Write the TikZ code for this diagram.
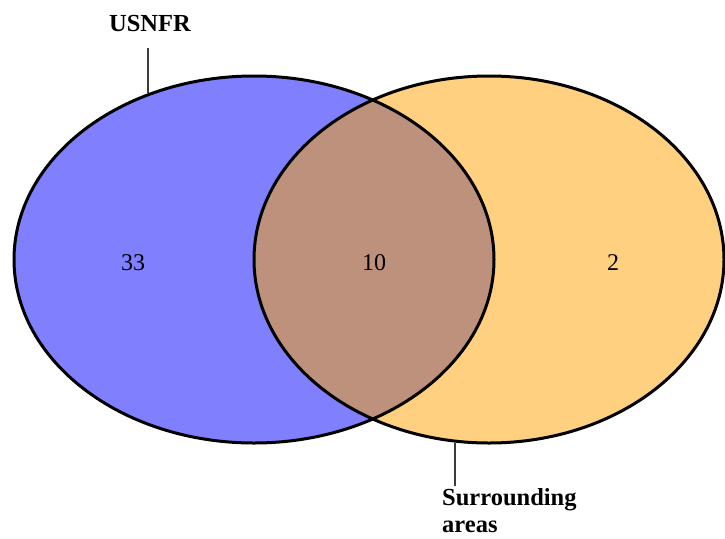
\documentclass[tikz,border=0pt]{standalone}
\usepackage{fontspec}
\setmainfont{Liberation Serif}
\usetikzlibrary{shapes.geometric}
\definecolor{setblue}{RGB}{128,128,255}
\definecolor{setorange}{RGB}{255,208,128}
\definecolor{setboth}{RGB}{190,145,125}
\definecolor{leadgray}{RGB}{60,60,60}
\tikzset{
  outline/.style={draw=black,line width=3pt},
  lbl/.style={font=\fontsize{24.5}{27.5}\selectfont\bfseries,inner sep=0pt},
  num/.style={font=\fontsize{24}{26}\selectfont,inner sep=0pt},
  leader/.style={draw=leadgray,line width=1.5pt}
}
\begin{document}
\begin{tikzpicture}[x=1pt,y=-1pt]
\useasboundingbox (0,0) rectangle (725,538);
\def\lset{(254,259.5) ellipse [x radius=240,y radius=183.5]}
\def\rset{(489,259.5) ellipse [x radius=235,y radius=183.5]}
\fill[setblue] \lset;
\fill[setorange] \rset;
\begin{scope}
  \clip \lset;
  \fill[setboth] \rset;
\end{scope}
\draw[outline] \lset;
\draw[outline] \rset;
\node[num] (n33) at (133,263) {33};
\node[num] (n10) at (374,263) {10};
\node[num] (n2) at (613,263) {2};
\node[lbl] (usnfr) at (150,24) {USNFR};
\coordinate (ltop) at (148,93);
\draw[leader] (148,48) -- (ltop);
\node[lbl,anchor=north west,align=left] (surr) at (442,488) {Surrounding\\areas};
\coordinate (rbot) at (455,443);
\draw[leader] (rbot) -- (455,486);
\end{tikzpicture}
\end{document}
